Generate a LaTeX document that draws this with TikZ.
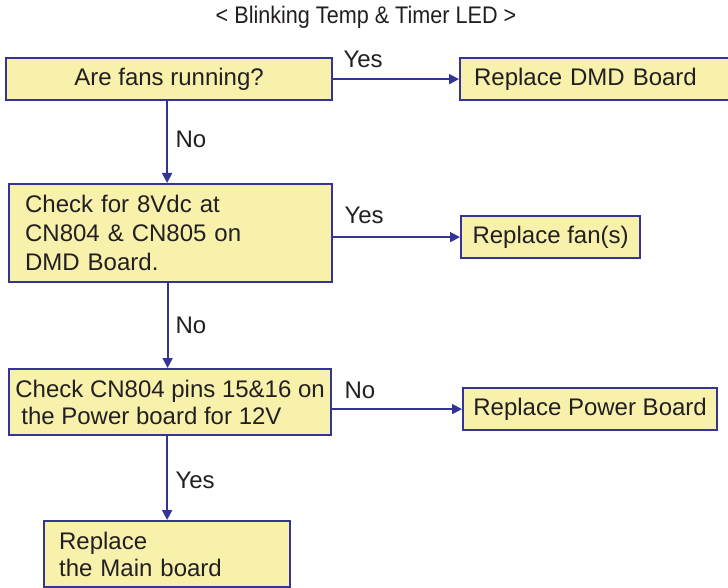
\documentclass[tikz,border=0pt]{standalone}
\usepackage{fontspec}
\setmainfont{Liberation Sans}
\newfontfamily\narrowfont[FakeStretch=0.9]{Liberation Sans}
\usetikzlibrary{positioning,arrows.meta}
\definecolor{boxfill}{RGB}{247,241,172}
\definecolor{boxline}{RGB}{52,52,150}
\definecolor{txt}{RGB}{35,31,32}

\begin{document}
\begin{tikzpicture}[x=1pt, y=-1pt,
    box/.style={draw=boxline, fill=boxfill, line width=2.2pt, anchor=north west,
                inner xsep=0pt, inner ysep=0pt, text=txt, font=\fontsize{24}{29}\selectfont},
    arr/.style={draw=boxline, line width=1.8pt, -{Triangle[length=10pt,width=10pt]}},
    lbl/.style={anchor=base west, text=txt, font=\fontsize{24}{29}\selectfont}
]
    \useasboundingbox (0,0) rectangle (728,588);

    % Title
    \node[anchor=base, text=txt, font=\narrowfont\fontsize{24}{28}\selectfont] (title) at (366,24)
        {< Blinking Temp \& Timer LED >};

    % Questions
    \node[box, minimum width=326pt, minimum height=42pt] (q1) at (5,57) {Are fans running?};
    \node[box, minimum height=98pt, inner xsep=16pt, text width=291pt, align=left] (q2) at (8,183)
        {Check for 8Vdc at\\CN804 \& CN805 on\\DMD Board.};
    \node[box, minimum width=322pt, minimum height=66pt, align=left,
          font=\fontsize{24}{27}\selectfont] (q3) at (8,368)
        {Check CN804 pins 15\&16 on\\\hspace*{6pt}the Power board for 12V};

    % Actions
    \node[box, minimum height=42pt, inner xsep=14pt, text width=252pt, align=left] (dmd) at (459,57)
        {Replace DMD Board};
    \node[box, minimum width=179pt, minimum height=42pt] (fan) at (460,215) {Replace fan(s)};
    \node[box, minimum width=254pt, minimum height=42pt] (pwr) at (462,387) {Replace Power Board};
    \node[box, minimum height=66pt, inner xsep=15pt, text width=216pt, align=left,
          font=\fontsize{24}{27}\selectfont] (mainb) at (43,520)
        {Replace\\the Main board};

    % Arrows
    \draw[arr] (q1.east) -- (dmd.west);
    \draw[arr] ([xshift=-2pt]q1.south) -- ([xshift=-2pt]q1.south |- q2.north);
    \draw[arr] (q2.east |- fan.west) -- (fan.west);
    \draw[arr] ([xshift=-3pt]q2.south) -- ([xshift=-3pt]q2.south |- q3.north);
    \draw[arr] (q3.east |- pwr.west) -- (pwr.west);
    \draw[arr] (q3.south -| mainb.north) -- (mainb.north);

    % Answers
    \node[lbl] (yes1) at (340,68) {Yes};
    \node[lbl] (no1) at (172,148) {No};
    \node[lbl] (yes2) at (341,223) {Yes};
    \node[lbl] (no2) at (172,333) {No};
    \node[lbl] (no3) at (341,398) {No};
    \node[lbl] (yes3) at (172,488) {Yes};
\end{tikzpicture}
\end{document}
